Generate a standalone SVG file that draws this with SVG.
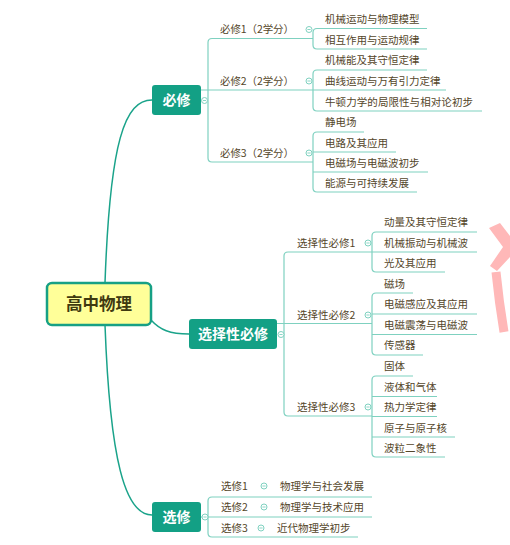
<svg xmlns="http://www.w3.org/2000/svg" width="510" height="545" viewBox="0 0 510 545">
<style>
text{font-family:"Noto Sans CJK SC","Noto Sans",sans-serif}
.main{fill:none;stroke:#1aa38a;stroke-width:1.5}
.ln{fill:none;stroke:#7fd1c0;stroke-width:1.2}
.box{fill:#13a085}
.bt{fill:#fff;font-size:14px;font-weight:bold;text-anchor:middle}
.lb{fill:#54462a;font-size:10.5px}
.col{fill:#fff;stroke:#7fd1c0;stroke-width:1}
.mi{stroke:#7fd1c0;stroke-width:0.9}
</style>
<defs>
<g id="cc"><circle class="col" r="3"/><line class="mi" x1="-1.6" x2="1.6" y1="0" y2="0"/></g>
</defs>
<rect width="510" height="545" fill="#fff"/>
<g id="watermark" fill="#ffb8b8">
<polygon points="489,228 500,223 510,236 510,257 497,271 490,266 503,247"/>
<path d="M496 272 Q499 302 504 332" fill="none" stroke="#ffb8b8" stroke-width="9"/>
</g>
<g id="connectors">
<path class="main" d="M105 283 C110 140 125 100 152 100"/>
<path class="main" d="M151 320 C160 330 170 334 189 334"/>
<path class="main" d="M105 325 C110 460 125 515 152 515"/>
<path class="ln" d="M313 38.5 H212 Q208 38.5 208 42.5 V158 Q208 162 212 162 H313"/>
<path class="ln" d="M201 90 H313"/>
<path class="ln" d="M427 28.5 H317 Q313 28.5 313 32.5 V45 Q313 49 317 49 H427"/>
<path class="ln" d="M427 70 H317 Q313 70 313 74 V107 Q313 111 317 111 H482"/>
<path class="ln" d="M313 90 H446"/>
<path class="ln" d="M364 132 H317 Q313 132 313 136 V188 Q313 192 317 192 H417"/>
<path class="ln" d="M313 152 H396 M313 172 H428"/>
<path class="ln" d="M372 252 H288 Q284 252 284 256 V412 Q284 416 288 416 H372"/>
<path class="ln" d="M277 323.5 H372"/>
<path class="ln" d="M477 232 H376 Q372 232 372 236 V268 Q372 272 376 272 H445"/>
<path class="ln" d="M372 252 H477"/>
<path class="ln" d="M413 293 H376 Q372 293 372 297 V351 Q372 355 376 355 H423"/>
<path class="ln" d="M372 314 H477 M372 334.5 H477"/>
<path class="ln" d="M413 376 H376 Q372 376 372 380 V453 Q372 457 376 457 H445"/>
<path class="ln" d="M372 396.5 H437 M372 416.5 H437 M372 437 H455"/>
<path class="ln" d="M372 497 H212 Q208 497 208 501 V533 Q208 537 212 537 H358"/>
<path class="ln" d="M201 517 H372"/>
</g>
<g id="root">
<rect x="47" y="283" width="104" height="42" rx="5" fill="#ffff99" stroke="#16a085" stroke-width="2.5"/>
<text x="99" y="310" text-anchor="middle" font-size="16.5" font-weight="bold" fill="#3f3a10">高中物理</text>
</g>
<g id="bixiu">
<rect class="box" x="152" y="85" width="49" height="30" rx="3"/>
<text class="bt" x="176.5" y="105">必修</text>
<use href="#cc" x="204.5" y="100.5"/>
</g>
<g id="bixiu1">
<text class="lb" x="220" y="33" textLength="74" lengthAdjust="spacing">必修1（2学分）</text>
<use href="#cc" x="309" y="29.5"/>
<text class="lb" x="325" y="23">机械运动与物理模型</text>
<text class="lb" x="325" y="44">相互作用与运动规律</text>
</g>
<g id="bixiu2">
<text class="lb" x="220" y="85" textLength="74" lengthAdjust="spacing">必修2（2学分）</text>
<use href="#cc" x="309" y="81"/>
<text class="lb" x="325" y="64">机械能及其守恒定律</text>
<text class="lb" x="325" y="85">曲线运动与万有引力定律</text>
<text class="lb" x="325" y="105.5" textLength="148" lengthAdjust="spacing">牛顿力学的局限性与相对论初步</text>
</g>
<g id="bixiu3">
<text class="lb" x="220" y="157" textLength="74" lengthAdjust="spacing">必修3（2学分）</text>
<use href="#cc" x="309" y="153"/>
<text class="lb" x="325" y="126">静电场</text>
<text class="lb" x="325" y="146.5">电路及其应用</text>
<text class="lb" x="325" y="167">电磁场与电磁波初步</text>
<text class="lb" x="325" y="187">能源与可持续发展</text>
</g>
<g id="xuanzexing">
<rect class="box" x="189" y="319" width="88" height="30" rx="3"/>
<text class="bt" x="233" y="339">选择性必修</text>
<use href="#cc" x="281" y="334.5"/>
</g>
<g id="xzx1">
<text class="lb" x="297" y="247">选择性必修1</text>
<use href="#cc" x="368" y="243"/>
<text class="lb" x="384" y="226">动量及其守恒定律</text>
<text class="lb" x="384" y="247">机械振动与机械波</text>
<text class="lb" x="384" y="267">光及其应用</text>
</g>
<g id="xzx2">
<text class="lb" x="297" y="318.5">选择性必修2</text>
<use href="#cc" x="368" y="315"/>
<text class="lb" x="384" y="287.5">磁场</text>
<text class="lb" x="384" y="308">电磁感应及其应用</text>
<text class="lb" x="384" y="329">电磁震荡与电磁波</text>
<text class="lb" x="384" y="349">传感器</text>
</g>
<g id="xzx3">
<text class="lb" x="297" y="411">选择性必修3</text>
<use href="#cc" x="368" y="407"/>
<text class="lb" x="384" y="370">固体</text>
<text class="lb" x="384" y="390.5">液体和气体</text>
<text class="lb" x="384" y="411">热力学定律</text>
<text class="lb" x="384" y="431.5">原子与原子核</text>
<text class="lb" x="384" y="452">波粒二象性</text>
</g>
<g id="xuanxiu">
<rect class="box" x="152" y="502" width="49" height="30" rx="3"/>
<text class="bt" x="176.5" y="522">选修</text>
<use href="#cc" x="205" y="517"/>
</g>
<g id="xx1">
<text class="lb" x="221" y="490">选修1</text>
<use href="#cc" x="264" y="486"/>
<text class="lb" x="280" y="490">物理学与社会发展</text>
</g>
<g id="xx2">
<text class="lb" x="221" y="511">选修2</text>
<use href="#cc" x="264" y="507"/>
<text class="lb" x="280" y="511">物理学与技术应用</text>
</g>
<g id="xx3">
<text class="lb" x="221" y="532">选修3</text>
<use href="#cc" x="261" y="528"/>
<text class="lb" x="277" y="532">近代物理学初步</text>
</g>
</svg>
